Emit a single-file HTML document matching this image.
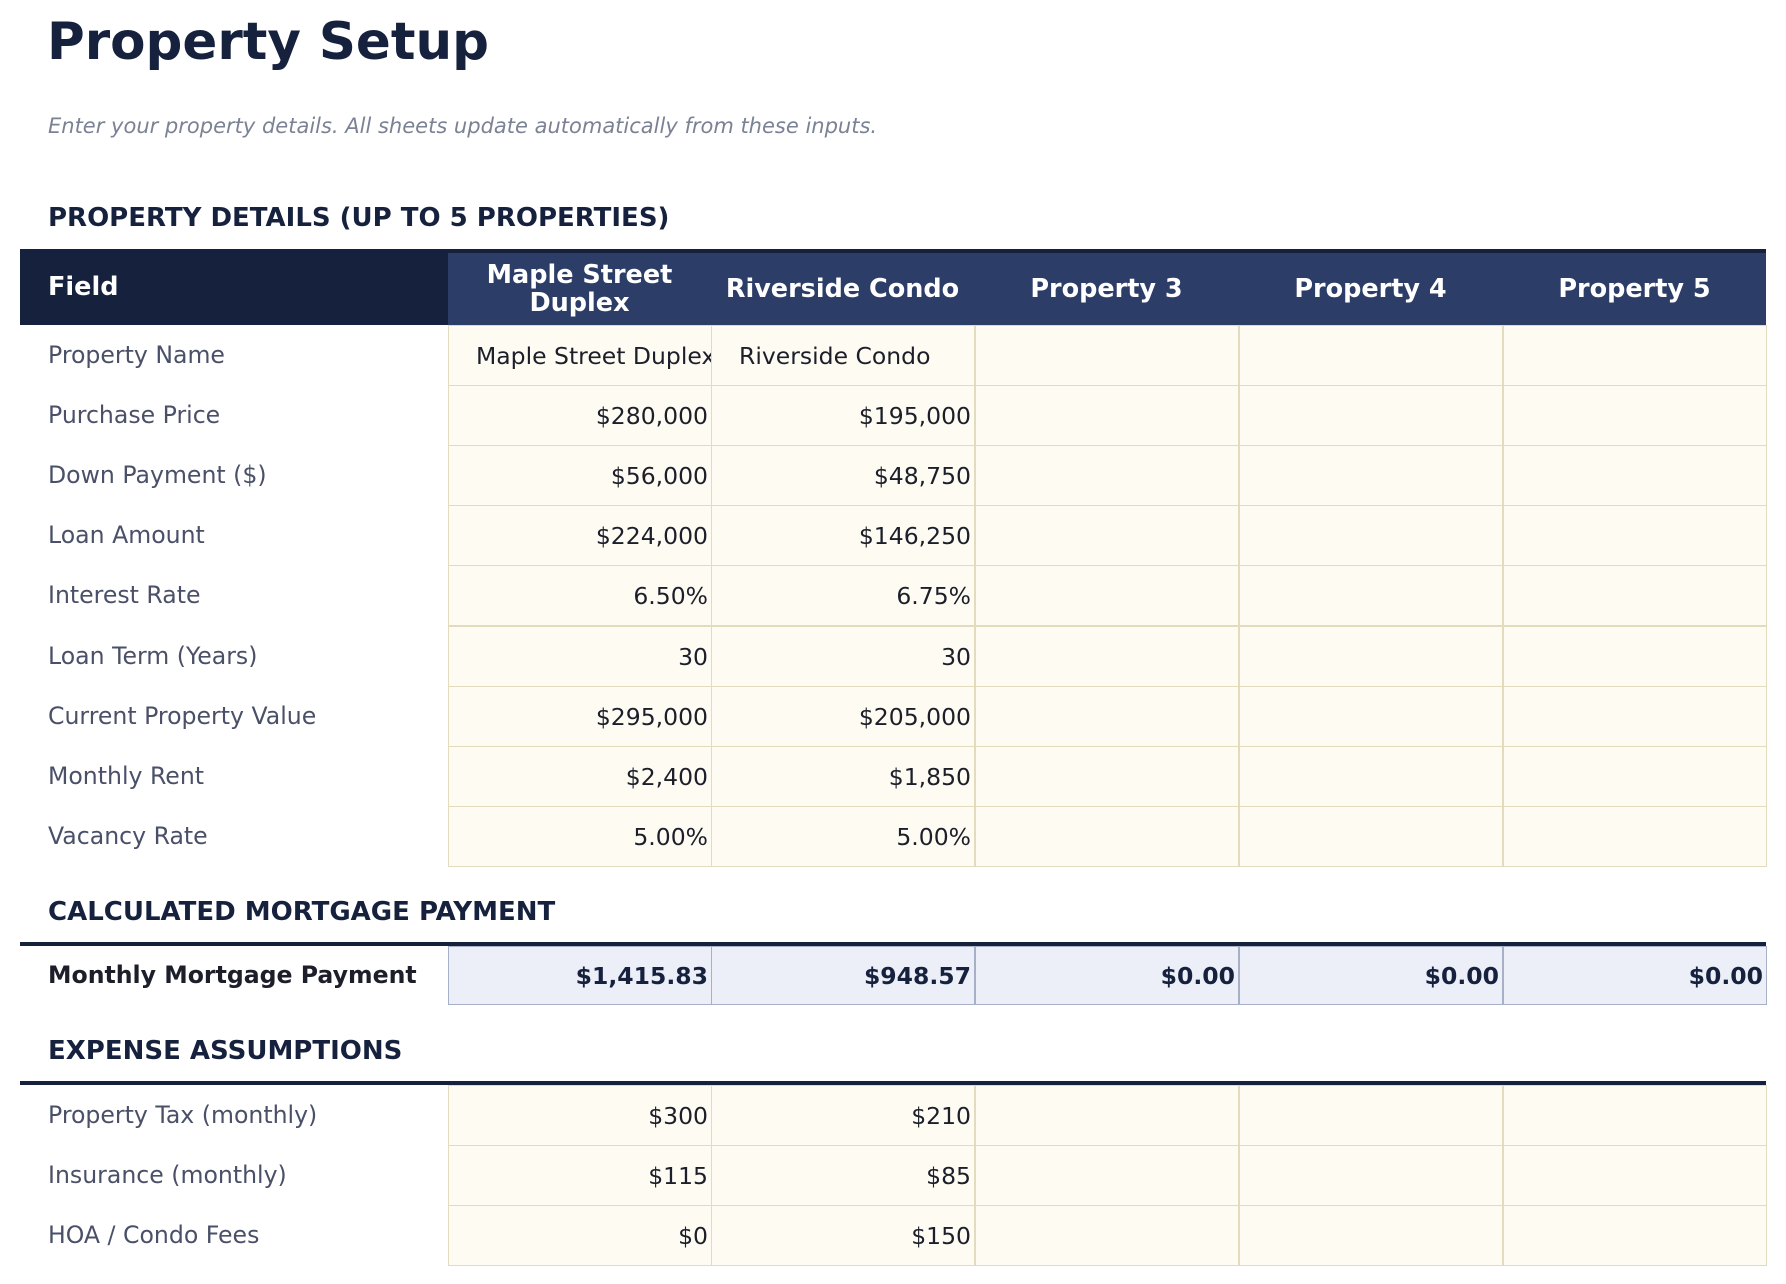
<!DOCTYPE html>
<html><head><meta charset="utf-8"><style>
body{margin:0;width:1786px;height:1284px;background:#fff;position:relative;font-family:"DejaVu Sans","Liberation Sans",sans-serif;overflow:hidden}
.a{position:absolute;white-space:nowrap}
.t{left:47px;top:12px;font-size:51.5px;font-weight:bold;color:#16213e}
.sub{left:48px;top:114px;font-size:21px;font-style:italic;color:#7a8294}
.h{left:48px;font-size:26px;font-weight:bold;color:#16213e}
.lab{left:48px;font-size:23.6px;color:#4a5068;line-height:60px}
.c{position:absolute;box-sizing:border-box;background:#fefbf2;border:1px solid #e3dbbd;font-size:23.5px;color:#1c1f2a;line-height:60px;text-align:right;padding-right:3px;overflow:hidden;white-space:nowrap}
.m{background:#eceff7;border-color:#a8b0c8;font-weight:bold;color:#16213e}
.hd{position:absolute;color:#fff;font-weight:bold;font-size:25.5px;text-align:center;display:flex;align-items:center;justify-content:center;line-height:28px}
</style></head><body>
<div class="a t">Property Setup</div>
<div class="a sub">Enter your property details. All sheets update automatically from these inputs.</div>
<div class="a h" style="top:203px">PROPERTY DETAILS (UP TO 5 PROPERTIES)</div>
<div style="position:absolute;left:20px;top:249px;width:1746px;height:4px;background:#16213e"></div>
<div class="hd" style="left:20px;top:249px;width:428px;height:76px;background:#16213e;justify-content:flex-start;padding-left:28px;box-sizing:border-box">Field</div>
<div class="hd" style="left:448px;top:253px;width:1318px;height:72px;background:#2c3d68"></div>
<div class="hd" style="left:448px;top:253px;width:263px;height:72px">Maple Street<br>Duplex</div>
<div class="hd" style="left:711px;top:253px;width:263px;height:72px">Riverside Condo</div>
<div class="hd" style="left:975px;top:253px;width:263px;height:72px">Property 3</div>
<div class="hd" style="left:1239px;top:253px;width:263px;height:72px">Property 4</div>
<div class="hd" style="left:1503px;top:253px;width:263px;height:72px">Property 5</div>
<div id="rows"></div>
<div class="a h" style="top:897px">CALCULATED MORTGAGE PAYMENT</div>
<div style="position:absolute;left:20px;top:942px;width:1746px;height:4px;background:#16213e"></div>
<div class="a lab" style="top:945px;font-weight:bold;color:#1c1f2a">Monthly Mortgage Payment</div>
<div class="a h" style="top:1036px">EXPENSE ASSUMPTIONS</div>
<div style="position:absolute;left:20px;top:1081px;width:1746px;height:4px;background:#16213e"></div>
<script>
var xs=[448,711,975,1239,1503],w=263;
var data=[["Property Name","Maple Street Duplex","Riverside Condo"],["Purchase Price","$280,000","$195,000"],["Down Payment ($)","$56,000","$48,750"],["Loan Amount","$224,000","$146,250"],["Interest Rate","6.50%","6.75%"],["Loan Term (Years)","30","30"],["Current Property Value","$295,000","$205,000"],["Monthly Rent","$2,400","$1,850"],["Vacancy Rate","5.00%","5.00%"]];
var h="";
function row(top,ht,vals,cls,label,lt){
 if(label)h+='<div class="a lab" style="top:'+lt+'px">'+label+'</div>';
 for(var i=0;i<5;i++){var v=vals[i]||"";var st="left:"+xs[i]+"px;top:"+top+"px;width:"+(w+1)+"px;height:"+ht+"px;line-height:"+(ht-1)+"px;";
  if(i<2&&label=="Property Name"){st+="text-align:left;padding-left:27px;";}
  h+='<div class="c '+cls+'" style="'+st+'">'+v+'</div>';}
}
for(var r=0;r<9;r++){var t=325+r*60.1;row(Math.round(t),61,[data[r][1],data[r][2]],"",data[r][0],Math.round(t));}
row(946,59,["$1,415.83","$948.57","$0.00","$0.00","$0.00"],"m","",0);
var ex=[["Property Tax (monthly)","$300","$210"],["Insurance (monthly)","$115","$85"],["HOA / Condo Fees","$0","$150"]];
for(var r=0;r<3;r++){var t=1085+r*60;row(t,61,[ex[r][1],ex[r][2]],"",ex[r][0],t);}
document.getElementById("rows").innerHTML=h;
</script>
</body></html>
